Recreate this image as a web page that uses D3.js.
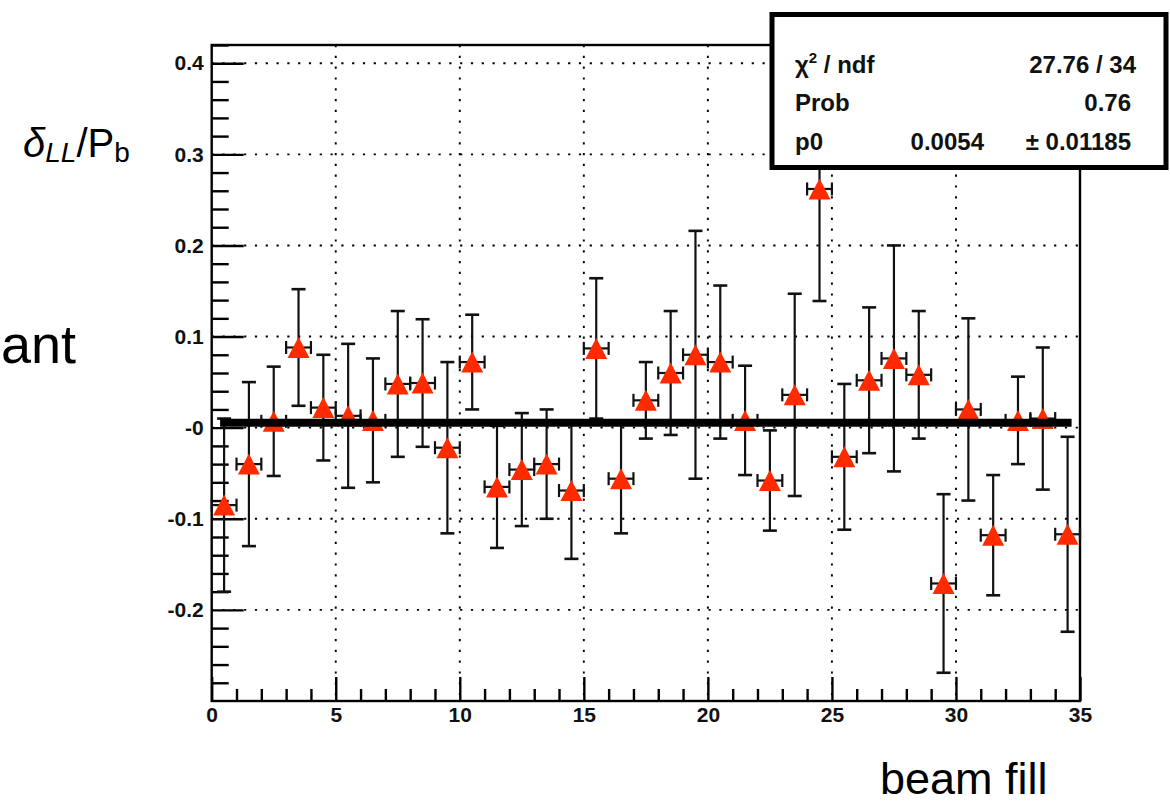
<!DOCTYPE html>
<html><head><meta charset="utf-8">
<script src="https://cdn.jsdelivr.net/npm/d3@7"></script>
<style>html,body{margin:0;padding:0;background:#fff;} svg{display:block}</style>
</head><body>
<svg id="c" width="1170" height="806"></svg>
<script>
// ---- data ----
const fills = [0.5,1.5,2.5,3.5,4.5,5.5,6.5,7.5,8.5,9.5,10.5,11.5,12.5,13.5,14.5,15.5,16.5,17.5,18.5,19.5,20.5,21.5,22.5,23.5,24.5,25.5,26.5,27.5,28.5,29.5,30.5,31.5,32.5,33.5,34.5];
const values = [-0.085,-0.040,0.007,0.088,0.022,0.013,0.008,0.048,0.049,-0.022,0.072,-0.065,-0.046,-0.040,-0.069,0.087,-0.056,0.030,0.060,0.080,0.072,0.008,-0.058,0.036,0.262,-0.032,0.052,0.076,0.058,-0.171,0.020,-0.118,0.008,0.010,-0.117];
const errors = [0.095,0.090,0.060,0.064,0.058,0.079,0.068,0.080,0.070,0.094,0.052,0.067,0.062,0.060,0.075,0.077,0.060,0.042,0.068,0.136,0.084,0.060,0.055,0.111,0.123,0.080,0.080,0.124,0.070,0.098,0.100,0.066,0.048,0.078,0.107];
const binHalfWidth = 0.5;
const fitP0 = 0.0054;
const fitRange = [0.5, 34.5];
const xTicks = [0,5,10,15,20,25,30,35];
const xTickLabels = ["0","5","10","15","20","25","30","35"];
const yTicks = [-0.2,-0.1,0,0.1,0.2,0.3,0.4];
const yTickLabels = ["-0.2","-0.1","-0","0.1","0.2","0.3","0.4"];
const statNames = ["ndf","Prob","p0"];
const statMid = ["","","0.0054"];
const statRight = ["27.76 / 34","0.76","\u00b1 0.01185"];

// ---- layout ----
const L = 211.7, R = 1080, T = 45, B = 701;
const svg = d3.select("#c");
const x = d3.scaleLinear().domain([0,35]).range([L,R]);
const y = d3.scaleLinear().domain([-0.3,0.42]).range([B,T]);
const red = "#ff2a00";
const tickFont = "'Liberation Sans', Arial, Helvetica, sans-serif";

// grid
const grid = svg.append("g").attr("stroke","#000").attr("stroke-width",1.9).attr("stroke-dasharray","2.2,8.6");
grid.selectAll("line.v").data(xTicks.filter(t=>t>0&&t<35)).join("line")
  .attr("x1",d=>x(d)).attr("x2",d=>x(d)).attr("y1",T).attr("y2",B);
grid.selectAll("line.h").data(yTicks).join("line")
  .attr("x1",L).attr("x2",R).attr("y1",d=>y(d)).attr("y2",d=>y(d));

// axes
const yMinor = d3.range(-0.28, 0.4201, 0.02).map(v=>Math.round(v*100)/100).filter(v=>!yTicks.some(t=>Math.abs(t-v)<1e-6));
const xMinor = d3.range(1,35).filter(v=>v%5!==0);

function styleAxis(g){
  g.select(".domain").remove();
  g.selectAll(".tick line").attr("stroke","#000").attr("stroke-width",2.4);
  g.selectAll(".tick text").attr("font-family",tickFont).attr("font-weight","bold").attr("font-size",21).attr("fill","#111");
}
svg.append("g").attr("transform",`translate(${L},0)`)
  .call(d3.axisLeft(y).tickValues(yMinor).tickSizeInner(-17).tickSizeOuter(0).tickFormat(""))
  .call(styleAxis);
svg.append("g").attr("transform",`translate(${L},0)`)
  .call(d3.axisLeft(y).tickValues(yTicks).tickSizeInner(-32).tickSizeOuter(0).tickPadding(8)
    .tickFormat(d=>yTickLabels[yTicks.indexOf(d)]))
  .call(styleAxis);
svg.append("g").attr("transform",`translate(0,${B})`)
  .call(d3.axisBottom(x).tickValues(xMinor).tickSizeInner(-12).tickSizeOuter(0).tickFormat(""))
  .call(styleAxis);
svg.append("g").attr("transform",`translate(0,${B})`)
  .call(d3.axisBottom(x).tickValues(xTicks).tickSizeInner(-24).tickSizeOuter(0).tickPadding(6)
    .tickFormat(d=>xTickLabels[xTicks.indexOf(d)]))
  .call(styleAxis);

// frame
svg.append("rect").attr("x",L).attr("y",T).attr("width",R-L).attr("height",B-T)
  .attr("fill","none").attr("stroke","#000").attr("stroke-width",2.4);

// data
const pts = fills.map((f,i)=>({f, v:values[i], e:errors[i]}));
const eb = svg.append("g").attr("stroke","#111").attr("stroke-width",2.2);
const capW = 7, capH = 6.5;
eb.selectAll("line.ev").data(pts).join("line")
  .attr("x1",d=>x(d.f)).attr("x2",d=>x(d.f)).attr("y1",d=>y(d.v-d.e)).attr("y2",d=>y(d.v+d.e));
eb.selectAll("line.ct").data(pts).join("line")
  .attr("x1",d=>x(d.f)-capW).attr("x2",d=>x(d.f)+capW).attr("y1",d=>y(d.v+d.e)).attr("y2",d=>y(d.v+d.e)).attr("stroke-width",2.6);
eb.selectAll("line.cb").data(pts).join("line")
  .attr("x1",d=>x(d.f)-capW).attr("x2",d=>x(d.f)+capW).attr("y1",d=>y(d.v-d.e)).attr("y2",d=>y(d.v-d.e)).attr("stroke-width",2.6);
eb.selectAll("line.eh").data(pts).join("line")
  .attr("x1",d=>x(d.f-binHalfWidth)).attr("x2",d=>x(d.f+binHalfWidth)).attr("y1",d=>y(d.v)).attr("y2",d=>y(d.v));
eb.selectAll("line.cl").data(pts).join("line")
  .attr("x1",d=>x(d.f-binHalfWidth)).attr("x2",d=>x(d.f-binHalfWidth)).attr("y1",d=>y(d.v)-capH).attr("y2",d=>y(d.v)+capH);
eb.selectAll("line.cr").data(pts).join("line")
  .attr("x1",d=>x(d.f+binHalfWidth)).attr("x2",d=>x(d.f+binHalfWidth)).attr("y1",d=>y(d.v)-capH).attr("y2",d=>y(d.v)+capH);

svg.append("g").selectAll("path").data(pts).join("path")
  .attr("transform",d=>`translate(${x(d.f)},${y(d.v)})`)
  .attr("d","M-11,10.5L11,10.5L0,-10.5Z").attr("fill",red);

// fit line
svg.append("line").attr("x1",x(fitRange[0])).attr("x2",x(fitRange[1]))
  .attr("y1",y(fitP0)).attr("y2",y(fitP0)).attr("stroke","#000").attr("stroke-width",8).attr("stroke-linecap","square");

// stats box
svg.append("rect").attr("x",772).attr("y",14.5).attr("width",394).attr("height",153)
  .attr("fill","#fff").attr("stroke","#000").attr("stroke-width",5);
const st = svg.append("g").attr("font-family",tickFont).attr("font-weight","bold").attr("font-size",24).attr("fill","#111");
const rowY = [73,111,150];
const t0 = st.append("text").attr("x",795).attr("y",rowY[0]);
t0.append("tspan").text("\u03c7");
t0.append("tspan").attr("font-size",15).attr("dy",-10).text("2");
t0.append("tspan").attr("dy",10).text(" / " + statNames[0]);
st.append("text").attr("x",795).attr("y",rowY[1]).text(statNames[1]);
st.append("text").attr("x",795).attr("y",rowY[2]).text(statNames[2]);
st.selectAll("text.r").data(statRight).join("text").attr("x",(d,i)=>i===0?1136:1131).attr("y",(d,i)=>rowY[i]).attr("text-anchor","end").text(d=>d);
st.selectAll("text.m").data(statMid).join("text").attr("x",984).attr("y",(d,i)=>rowY[i]).attr("text-anchor","end").text(d=>d);

// slide texts
const sf = "'Liberation Sans', Arial, Helvetica, sans-serif";
const yl = svg.append("text").attr("x",23).attr("y",157).attr("font-family",sf).attr("font-size",40).attr("fill","#000");
yl.append("tspan").attr("font-style","italic").text("\u03b4");
yl.append("tspan").attr("font-style","italic").attr("font-size",28).attr("dy",5).text("LL");
yl.append("tspan").attr("dy",-5).text("/P");
yl.append("tspan").attr("font-size",28).attr("dy",5).text("b");
svg.append("text").attr("x",76).attr("y",363).attr("text-anchor","end").attr("font-family",sf).attr("font-size",54).text("ant");
svg.append("text").attr("x",880).attr("y",794).attr("font-family",sf).attr("font-size",45).text("beam fill");
</script>
</body></html>
